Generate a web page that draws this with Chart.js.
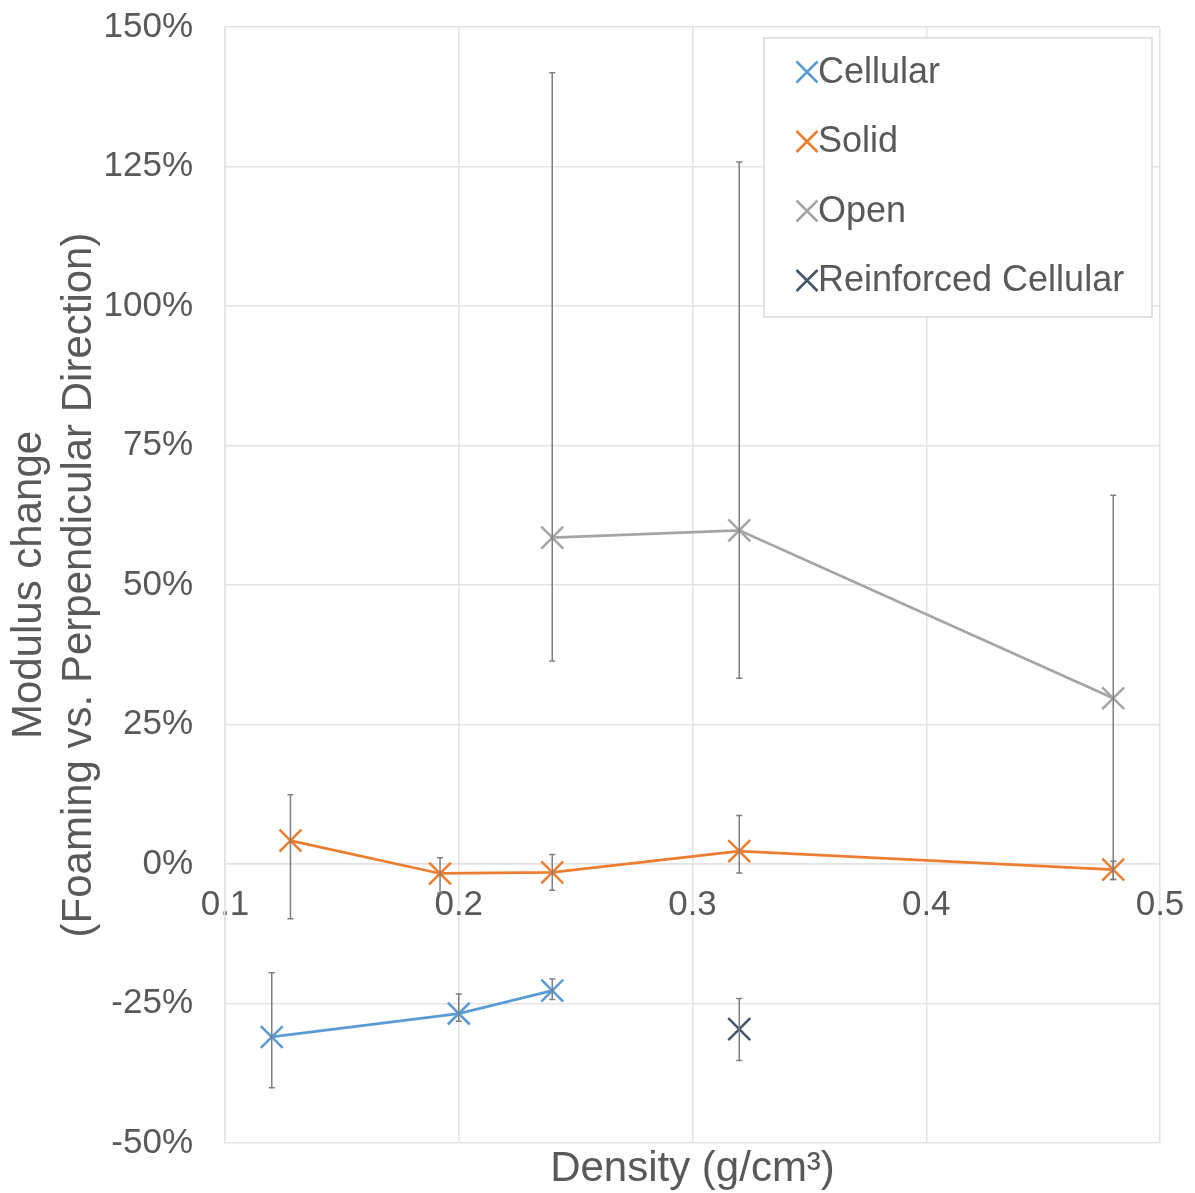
<!DOCTYPE html>
<html>
<head>
<meta charset="utf-8">
<title>Modulus change vs density</title>
<script src="https://cdn.jsdelivr.net/npm/chart.js@4/dist/chart.umd.min.js"></script>
<style>
  html, body { margin: 0; padding: 0; background: #fff; }
  #wrap { width: 1195px; height: 1193px; }
</style>
</head>
<body>
<div id="wrap"><canvas id="chart" width="1195" height="1193"></canvas></div>
<script>
// values (% modulus change), errors as upper / lower bar ends
const cellularDensity = [0.12, 0.2, 0.24];
const cellularValues = [-31.0, -26.8, -22.7];
const cellularHigh = [-19.5, -23.3, -20.6];
const cellularLow = [-40.1, -28.2, -24.3];

const solidDensity = [0.128, 0.192, 0.24, 0.32, 0.48];
const solidValues = [4.2, -1.7, -1.5, 2.3, -1.0];
const solidHigh = [12.4, 1.1, 1.7, 8.7, 0.5];
const solidLow = [-9.8, -5.2, -4.7, -1.6, -2.8];

const openDensity = [0.24, 0.32, 0.48];
const openValues = [58.5, 59.8, 29.7];
const openHigh = [141.8, 125.8, 66.1];
const openLow = [36.4, 33.3, -2.8];

const reinforcedDensity = [0.32];
const reinforcedValues = [-29.6];
const reinforcedHigh = [-24.1];
const reinforcedLow = [-35.2];

const seriesNames = ["Cellular", "Solid", "Open", "Reinforced Cellular"];
const seriesColors = ["#5B9BD5", "#ED7D31", "#A5A5A5", "#44546A"];
const yTicks = [-50, -25, 0, 25, 50, 75, 100, 125, 150];
const xTicks = [0.1, 0.2, 0.3, 0.4, 0.5];

const textColor = "#595959";
const gridColor = "#e3e3e3";
const fontFamily = "'Liberation Sans', Arial, sans-serif";

const toPoints = (xs, ys) => xs.map((x, i) => ({ x: x, y: ys[i] }));

const makeSeries = (i, xs, ys, hi, lo, showLine) => ({
  label: seriesNames[i],
  data: toPoints(xs, ys),
  errHigh: hi,
  errLow: lo,
  showLine: showLine,
  borderColor: seriesColors[i],
  backgroundColor: seriesColors[i],
  borderWidth: 2.75,
  pointStyle: "crossRot",
  pointRadius: 15.5,
  pointBorderWidth: 2.5,
  pointBorderColor: seriesColors[i],
  tension: 0,
});

const noPadding = (scale) => {
  scale.paddingTop = 0;
  scale.paddingBottom = 0;
  scale.paddingLeft = 0;
  scale.paddingRight = 0;
};

// error bars drawn after the lines
const errorBars = {
  id: "errorBars",
  afterDatasetsDraw(chart) {
    const ctx = chart.ctx;
    const xs = chart.scales.x;
    const ys = chart.scales.y;
    ctx.save();
    ctx.strokeStyle = "#7f7f7f";
    ctx.lineWidth = 1.5;
    chart.data.datasets.forEach((ds) => {
      ds.data.forEach((p, i) => {
        const px = xs.getPixelForValue(p.x);
        const top = ys.getPixelForValue(ds.errHigh[i]);
        const bot = ys.getPixelForValue(ds.errLow[i]);
        ctx.beginPath();
        ctx.moveTo(px, top);
        ctx.lineTo(px, bot);
        ctx.moveTo(px - 3, top);
        ctx.lineTo(px + 3, top);
        ctx.moveTo(px - 3, bot);
        ctx.lineTo(px + 3, bot);
        ctx.stroke();
      });
    });
    ctx.restore();
  },
};

// legend box inside the plot, top right
const legendBox = {
  id: "legendBox",
  afterDraw(chart) {
    const ctx = chart.ctx;
    const area = chart.chartArea;
    const right = area.right - 8;
    const left = right - 388;
    const top = area.top + 11;
    ctx.save();
    ctx.fillStyle = "#fff";
    ctx.fillRect(left, top, 388, 279);
    ctx.strokeStyle = "#d9d9d9";
    ctx.lineWidth = 1.5;
    ctx.strokeRect(left, top, 388, 279);
    ctx.font = "36px " + fontFamily;
    ctx.textBaseline = "middle";
    ctx.textAlign = "left";
    chart.data.datasets.forEach((ds, i) => {
      const y = top + 34 + i * 69.5;
      const mx = left + 43;
      ctx.strokeStyle = ds.borderColor;
      ctx.lineWidth = 2.5;
      ctx.beginPath();
      ctx.moveTo(mx - 10.5, y - 10.5);
      ctx.lineTo(mx + 10.5, y + 10.5);
      ctx.moveTo(mx - 10.5, y + 10.5);
      ctx.lineTo(mx + 10.5, y - 10.5);
      ctx.stroke();
      ctx.fillStyle = textColor;
      ctx.fillText(ds.label, left + 54, y + 1);
    });
    ctx.restore();
  },
};

new Chart(document.getElementById("chart"), {
  type: "scatter",
  data: {
    datasets: [
      makeSeries(0, cellularDensity, cellularValues, cellularHigh, cellularLow, true),
      makeSeries(1, solidDensity, solidValues, solidHigh, solidLow, true),
      makeSeries(2, openDensity, openValues, openHigh, openLow, true),
      makeSeries(3, reinforcedDensity, reinforcedValues, reinforcedHigh, reinforcedLow, false),
    ],
  },
  options: {
    responsive: false,
    animation: false,
    devicePixelRatio: 1,
    layout: { padding: { left: 0, top: 27, right: 35, bottom: 0 } },
    plugins: {
      legend: { display: false },
      tooltip: { enabled: false },
      title: {
        display: true,
        position: "bottom",
        fullSize: false,
        text: "Density (g/cm³)",
        color: textColor,
        font: { family: fontFamily, size: 42, weight: "normal", lineHeight: 1.0 },
        padding: { top: 5, bottom: 3 },
      },
    },
    scales: {
      x: {
        type: "linear",
        position: { y: 0 },
        min: 0.1,
        max: 0.5,
        afterBuildTicks: (scale) => {
          scale.ticks = xTicks.map((v) => ({ value: v }));
        },
        afterFit: (scale) => {
          scale.height = 0;
          noPadding(scale);
        },
        ticks: {
          color: textColor,
          font: { family: fontFamily, size: 35 },
          padding: 20,
          maxRotation: 0,
          callback: (v) => Number(v).toFixed(1),
        },
        grid: { color: gridColor, lineWidth: 1.5, drawTicks: false },
        border: { color: gridColor, width: 1.5 },
      },
      y: {
        min: -50,
        max: 150,
        afterBuildTicks: (scale) => {
          scale.ticks = yTicks.map((v) => ({ value: v }));
        },
        afterFit: (scale) => {
          scale.width = 225;
          noPadding(scale);
        },
        ticks: {
          color: textColor,
          font: { family: fontFamily, size: 35 },
          padding: 32,
          callback: (v) => v + "%",
        },
        grid: { color: gridColor, lineWidth: 1.5, drawTicks: false },
        border: { color: gridColor, width: 1.5 },
        title: {
          display: true,
          text: ["Modulus change", "(Foaming vs. Perpendicular Direction)"],
          color: textColor,
          font: { family: fontFamily, size: 42, lineHeight: 1.19 },
          padding: { top: 4, bottom: 0 },
        },
      },
    },
  },
  plugins: [errorBars, legendBox],
});
</script>
</body>
</html>
